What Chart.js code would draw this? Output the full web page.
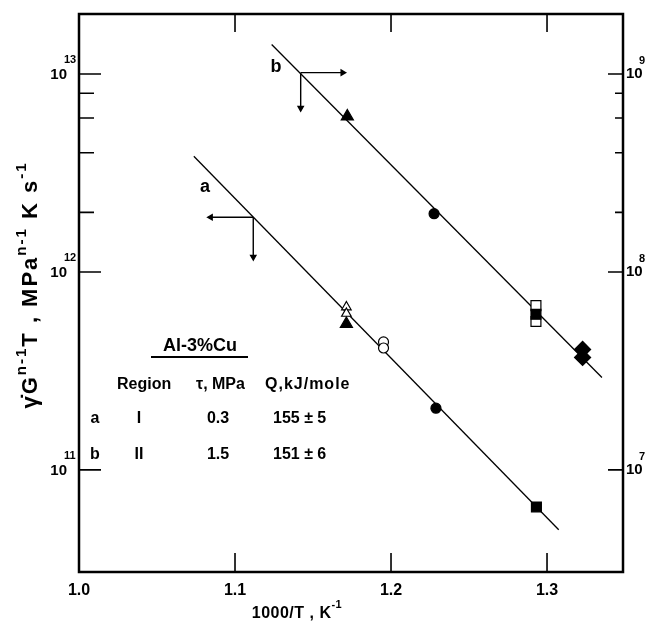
<!DOCTYPE html>
<html>
<head>
<meta charset="utf-8">
<script src="https://cdn.jsdelivr.net/npm/chart.js@4.4.1/dist/chart.umd.min.js"></script>
<style>
  html, body { margin: 0; padding: 0; background: #fff; }
  #wrap { width: 648px; height: 621px; }
</style>
</head>
<body>
<div id="wrap"><canvas id="chart" width="648" height="621"></canvas></div>
<script>
// --- axes ---
const xTicks = [1.0, 1.1, 1.2, 1.3];
const leftDecades = [1e11, 1e12, 1e13];
const leftMinor = [2e12, 4e12, 6e12, 8e12];
const rightDecades = [1e7, 1e8, 1e9];
const rightMinor = [2e8, 4e8, 6e8, 8e8];
const X_MIN = 1.0, X_MAX = 1.3487;
const Y_MIN = 3.05e10, Y_MAX = 2.01e13;   // left axis
const Y2_MIN = 3.05e6, Y2_MAX = 2.01e9;   // right axis (left / 1e4)

// --- region I (line a), read on left axis ---
const fitAx = [1.0736, 1.3075];
const fitAy = [3.84e12, 4.99e10];
const aOpenTriX = [1.1714, 1.1714];
const aOpenTriY = [6.65e11, 6.17e11];
const aTriX = [1.1714];
const aTriY = [5.46e11];
const aOpenCircX = [1.1952, 1.1952];
const aOpenCircY = [4.43e11, 4.13e11];
const aCircX = [1.2288];
const aCircY = [2.05e11];
const aSqX = [1.2932];
const aSqY = [6.5e10];

// --- region II (line b), read on right axis ---
const fitBx = [1.1235, 1.3352];
const fitBy = [1.41e9, 2.93e7];
const bTriX = [1.1720];
const bTriY = [6.1e8];
const bCircX = [1.2276];
const bCircY = [1.97e8];
const bOpenSqX = [1.2929, 1.2929];
const bOpenSqY = [6.76e7, 5.62e7];
const bSqX = [1.2929];
const bSqY = [6.11e7];
const bDiaX = [1.3228, 1.3228];
const bDiaY = [4.06e7, 3.70e7];

// axis-reading arrows: [corner, end]
const arrowAhX = [1.1117, 1.0844], arrowAhY = [1.89e12, 1.89e12];
const arrowAvX = [1.1117, 1.1117], arrowAvY = [1.89e12, 1.19e12];
const arrowBhX = [1.1421, 1.1690], arrowBhY = [1.016e9, 1.016e9];
const arrowBvX = [1.1421, 1.1421], arrowBvY = [1.016e9, 6.73e8];

const FONT = '"Liberation Sans", Arial, sans-serif';
const pts = (xs, ys) => xs.map((x, i) => ({ x: x, y: ys[i] }));

function marks(label, xs, ys, style, radius, filled, axis) {
    return {
        label: label, data: pts(xs, ys), yAxisID: axis, showLine: false,
        pointStyle: style, pointRadius: radius, pointHoverRadius: radius,
        backgroundColor: filled ? '#000' : '#fff', borderColor: '#000', borderWidth: 1.2
    };
}

function arrow(label, xs, ys, axis, rot) {
    return {
        label: label, data: pts(xs, ys), yAxisID: axis, showLine: true,
        borderColor: '#000', borderWidth: 1.4, backgroundColor: '#000',
        pointStyle: 'triangle', pointRadius: [0, 3], rotation: rot
    };
}

function fitLine(label, xs, ys, axis) {
    return {
        label: label, data: pts(xs, ys), yAxisID: axis, showLine: true,
        borderColor: '#000', borderWidth: 1.3, pointRadius: 0
    };
}

// text with superscripts, centred on x, baseline y
function richText(ctx, parts, x, y, big, small, rise) {
    let w = 0;
    parts.forEach(p => { ctx.font = p.s ? small : big; w += ctx.measureText(p.t).width; });
    let cx = x - w / 2;
    parts.forEach(p => {
        ctx.font = p.s ? small : big;
        ctx.fillText(p.t, cx, p.s ? y - rise : y);
        cx += ctx.measureText(p.t).width;
    });
}

// "10" with a raised exponent
function powerLabel(ctx, exp, x, y, side) {
    ctx.textBaseline = 'middle';
    ctx.font = 'bold 15px ' + FONT;
    if (side === 'left') {
        ctx.textAlign = 'right';
        ctx.fillText('10', x, y + 1);
        ctx.textAlign = 'left';
        ctx.font = 'bold 11px ' + FONT;
        ctx.fillText(String(exp), x - 3, y - 14);
    } else {
        ctx.textAlign = 'left';
        ctx.fillText('10', x, y);
        ctx.font = 'bold 11px ' + FONT;
        ctx.fillText(String(exp), x + 13, y - 13);
    }
}

const decor = {
    id: 'decor',
    afterDatasetsDraw(chart) {
        const { ctx, chartArea: a, scales: { x, y, y2 } } = chart;
        ctx.save();
        ctx.strokeStyle = '#000';
        ctx.fillStyle = '#000';

        // frame
        ctx.lineWidth = 2.5;
        ctx.strokeRect(a.left, a.top, a.right - a.left, a.bottom - a.top);

        // inward ticks
        ctx.lineWidth = 1.6;
        ctx.beginPath();
        xTicks.slice(1).forEach(v => {
            const px = x.getPixelForValue(v);
            ctx.moveTo(px, a.bottom); ctx.lineTo(px, a.bottom - 19);
            ctx.moveTo(px, a.top); ctx.lineTo(px, a.top + 18);
        });
        leftDecades.forEach(v => { const py = y.getPixelForValue(v); ctx.moveTo(a.left, py); ctx.lineTo(a.left + 22, py); });
        leftMinor.forEach(v => { const py = y.getPixelForValue(v); ctx.moveTo(a.left, py); ctx.lineTo(a.left + 15, py); });
        rightDecades.forEach(v => { const py = y2.getPixelForValue(v); ctx.moveTo(a.right, py); ctx.lineTo(a.right - 15, py); });
        rightMinor.forEach(v => { const py = y2.getPixelForValue(v); ctx.moveTo(a.right, py); ctx.lineTo(a.right - 8, py); });
        ctx.stroke();

        // decade labels
        leftDecades.forEach(v => powerLabel(ctx, Math.round(Math.log10(v)), a.left - 12, y.getPixelForValue(v), 'left'));
        rightDecades.forEach(v => powerLabel(ctx, Math.round(Math.log10(v)), a.right + 3, y2.getPixelForValue(v), 'right'));

        // line labels
        ctx.textAlign = 'center';
        ctx.textBaseline = 'middle';
        ctx.font = 'bold 18px ' + FONT;
        ctx.fillText('b', 276, 67);
        ctx.fillText('a', 205, 187);

        // y axis title (rotated)
        ctx.save();
        ctx.translate(37, 285);
        ctx.rotate(-Math.PI / 2);
        ctx.textAlign = 'left';
        ctx.textBaseline = 'alphabetic';
        ctx.letterSpacing = '2px';
        richText(ctx, [
            { t: 'γ̇G' }, { t: 'n-1', s: 1 }, { t: 'T , MPa' }, { t: 'n-1', s: 1 },
            { t: ' K s' }, { t: '-1', s: 1 }
        ], 0, 0, 'bold 22px ' + FONT, 'bold 15px ' + FONT, 11);
        ctx.restore();

        // x axis title
        ctx.save();
        ctx.textAlign = 'left';
        ctx.textBaseline = 'alphabetic';
        ctx.letterSpacing = '0.5px';
        richText(ctx, [{ t: '1000/T , K' }, { t: '-1', s: 1 }], 297, 618, 'bold 16px ' + FONT, 'bold 11px ' + FONT, 10);
        ctx.restore();

        // inset table
        ctx.textAlign = 'center';
        ctx.textBaseline = 'middle';
        ctx.font = 'bold 18px ' + FONT;
        ctx.fillText('Al-3%Cu', 200, 346);
        ctx.lineWidth = 2;
        ctx.beginPath(); ctx.moveTo(151, 357); ctx.lineTo(248, 357); ctx.stroke();

        ctx.font = 'bold 16px ' + FONT;
        ctx.textAlign = 'left';
        ctx.fillText('Region', 117, 385);
        ctx.fillText('τ, MPa', 196, 385);
        ctx.save();
        ctx.letterSpacing = '1px';
        ctx.fillText('Q,kJ/mole', 265, 385);
        ctx.restore();
        ctx.textAlign = 'center';
        ctx.fillText('a', 95, 419);
        ctx.fillText('I', 139, 419);
        ctx.fillText('0.3', 218, 419);
        ctx.fillText('b', 95, 455);
        ctx.fillText('II', 139, 455);
        ctx.fillText('1.5', 218, 455);
        ctx.textAlign = 'left';
        ctx.fillText('155 ± 5', 273, 419);
        ctx.fillText('151 ± 6', 273, 455);

        ctx.restore();
    }
};

new Chart(document.getElementById('chart'), {
    type: 'scatter',
    data: {
        datasets: [
            marks('a filled triangle', aTriX, aTriY, 'triangle', 7, true, 'y'),
            marks('b filled triangle', bTriX, bTriY, 'triangle', 7, true, 'y2'),
            marks('a filled circle', aCircX, aCircY, 'circle', 5, true, 'y'),
            marks('b filled circle', bCircX, bCircY, 'circle', 5, true, 'y2'),
            marks('a filled square', aSqX, aSqY, 'rect', 7, true, 'y'),
            marks('b filled square', bSqX, bSqY, 'rect', 7, true, 'y2'),
            marks('b diamond', bDiaX, bDiaY, 'rectRot', 8, true, 'y2'),
            marks('a open triangle', aOpenTriX, aOpenTriY, 'triangle', 5.5, false, 'y'),
            marks('a open circle', aOpenCircX, aOpenCircY, 'circle', 5, false, 'y'),
            marks('b open square', bOpenSqX, bOpenSqY, 'rect', 7, false, 'y2'),
            arrow('a arrow h', arrowAhX, arrowAhY, 'y', 270),
            arrow('a arrow v', arrowAvX, arrowAvY, 'y', 180),
            arrow('b arrow h', arrowBhX, arrowBhY, 'y2', 90),
            arrow('b arrow v', arrowBvX, arrowBvY, 'y2', 180),
            fitLine('line a', fitAx, fitAy, 'y'),
            fitLine('line b', fitBx, fitBy, 'y2')
        ]
    },
    options: {
        responsive: false,
        animation: false,
        devicePixelRatio: 1,
        layout: { padding: { top: 14, left: 0, right: 0, bottom: 0 } },
        plugins: { legend: { display: false }, tooltip: { enabled: false } },
        scales: {
            x: {
                type: 'linear', position: 'bottom', min: X_MIN, max: X_MAX,
                grid: { display: false, drawTicks: false }, border: { display: false },
                afterBuildTicks: s => { s.ticks = xTicks.map(v => ({ value: v })); },
                afterFit: s => { s.height = 49; },
                ticks: { color: '#000', padding: 9, font: { family: FONT, size: 16, weight: 'bold' },
                         callback: v => v.toFixed(1) }
            },
            y: {
                type: 'logarithmic', position: 'left', min: Y_MIN, max: Y_MAX,
                grid: { display: false, drawTicks: false }, border: { display: false },
                afterBuildTicks: s => { s.ticks = leftDecades.map(v => ({ value: v })); },
                afterFit: s => { s.width = 79; },
                ticks: { display: false }
            },
            y2: {
                type: 'logarithmic', position: 'right', min: Y2_MIN, max: Y2_MAX,
                grid: { display: false, drawTicks: false }, border: { display: false },
                afterBuildTicks: s => { s.ticks = rightDecades.map(v => ({ value: v })); },
                afterFit: s => { s.width = 25; },
                ticks: { display: false }
            }
        }
    },
    plugins: [decor]
});
</script>
</body>
</html>
